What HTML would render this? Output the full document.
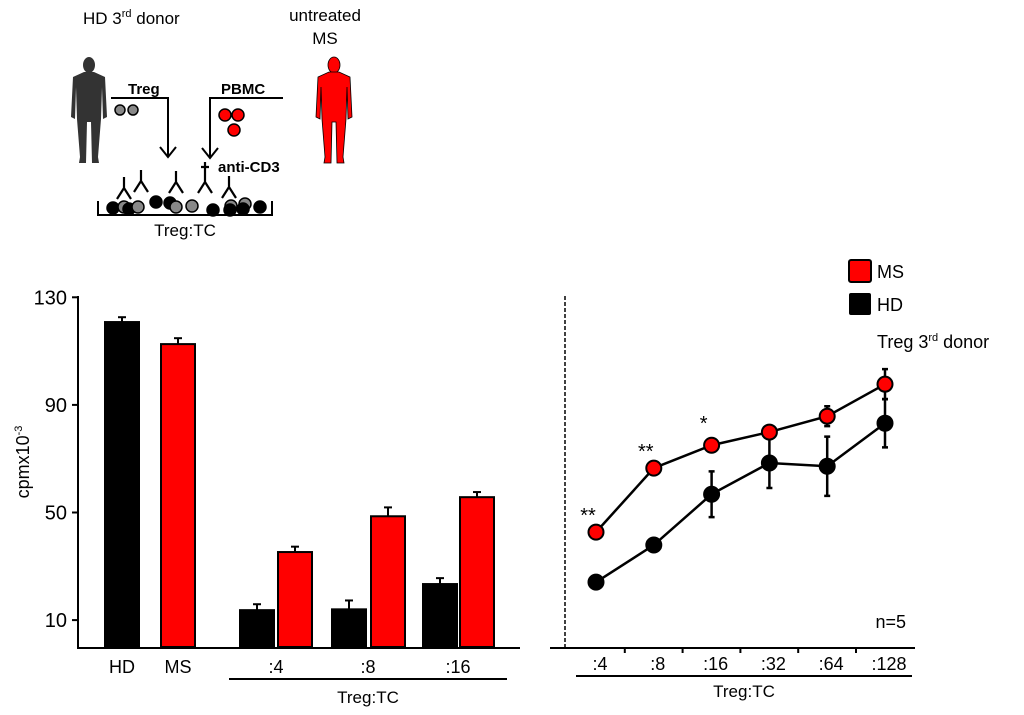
<!DOCTYPE html>
<html><head><meta charset="utf-8"><style>
html,body{margin:0;padding:0;background:#fff;}
svg{display:block;font-family:"Liberation Sans",Arial,sans-serif;}
</style></head><body>
<svg id="fig" width="1024" height="715" viewBox="0 0 1024 715" xmlns="http://www.w3.org/2000/svg">
  <g>
    <text x="83" y="24" font-size="17">HD 3<tspan font-size="11" dy="-7">rd</tspan><tspan dy="7"> donor</tspan></text>
    <text x="325" y="21" font-size="17" text-anchor="middle">untreated</text>
    <text x="325" y="44" font-size="17" text-anchor="middle">MS</text>
    <g transform="translate(89,57)" fill="#333">
      <ellipse cx="0" cy="8" rx="6" ry="8"/>
      <path d="M-5,15 L5,15 L16,20 L18,60 L14,62 L13,30 L12,62 L9,100 L10,106 L3,106 L2,65 L-2,65 L-3,106 L-10,106 L-9,100 L-12,62 L-13,30 L-14,62 L-18,60 L-16,20 Z"/>
    </g>
    <g transform="translate(334,57)" fill="#ff0000" stroke="#000" stroke-width="0.8">
      <ellipse cx="0" cy="8" rx="6" ry="8"/>
      <path d="M-5,15 L5,15 L16,20 L18,60 L14,62 L13,30 L12,62 L9,100 L10,106 L3,106 L2,65 L-2,65 L-3,106 L-10,106 L-9,100 L-12,62 L-13,30 L-14,62 L-18,60 L-16,20 Z"/>
    </g>
    <text x="128" y="94" font-size="15" font-weight="bold">Treg</text>
    <path d="M111,98 H168 V156 M160,147 L168,157 L176,147" fill="none" stroke="#000" stroke-width="2"/>
    <circle cx="120" cy="110" r="5" fill="#888" stroke="#000" stroke-width="1.5"/>
    <circle cx="133" cy="110" r="5" fill="#888" stroke="#000" stroke-width="1.5"/>
    <text x="221" y="94" font-size="15" font-weight="bold">PBMC</text>
    <path d="M283,98 H210 V157 M202,148 L210,158 L218,148" fill="none" stroke="#000" stroke-width="2"/>
    <circle cx="225" cy="115" r="6" fill="#ff0000" stroke="#000" stroke-width="1.5"/>
    <circle cx="238" cy="115" r="6" fill="#ff0000" stroke="#000" stroke-width="1.5"/>
    <circle cx="234" cy="130" r="6" fill="#ff0000" stroke="#000" stroke-width="1.5"/>
    <text x="218" y="172" font-size="15" font-weight="bold">anti-CD3</text>
    <g fill="none" stroke="#000" stroke-width="2.2">
      <path d="M117,199 L124,188 L124,177 M124,188 L131,199"/>
      <path d="M134,192 L141,181 L141,170 M141,181 L148,192"/>
      <path d="M169,193 L176,182 L176,171 M176,182 L183,193"/>
      <path d="M198,193 L205,182 L205,162 M201,167 H209 M205,182 L212,193"/>
      <path d="M222,198 L229,187 L229,176 M229,187 L236,198"/>
    </g>
    <g stroke="#000" stroke-width="1.5">
      <circle cx="113" cy="208" r="6" fill="#000"/><circle cx="124" cy="207" r="6" fill="#888"/><circle cx="129" cy="209" r="6" fill="#000"/><circle cx="138" cy="207" r="6" fill="#888"/>
      <circle cx="156" cy="202" r="6" fill="#000"/><circle cx="170" cy="203" r="6" fill="#000"/><circle cx="176" cy="207" r="6" fill="#888"/><circle cx="192" cy="206" r="6" fill="#888"/>
      <circle cx="213" cy="210" r="6" fill="#000"/><circle cx="231" cy="206" r="6" fill="#888"/><circle cx="230" cy="210" r="6" fill="#000"/><circle cx="245" cy="204" r="6" fill="#888"/><circle cx="243" cy="209" r="6" fill="#000"/><circle cx="260" cy="207" r="6" fill="#000"/>
    </g>
    <path d="M98,201 V215 H272 V201" fill="none" stroke="#000" stroke-width="2"/>
    <text x="185" y="236" font-size="17" text-anchor="middle">Treg:TC</text>
  </g>

  <g id="chart">
    <line x1="78" y1="296" x2="78" y2="649" stroke="#000" stroke-width="2"/>
    <line x1="77" y1="648" x2="520" y2="648" stroke="#000" stroke-width="2"/>
    <text transform="translate(29,462) rotate(-90)" font-size="18" text-anchor="middle">cpmx10<tspan font-size="11" dy="-7">-3</tspan></text>
    <line x1="229" y1="679" x2="507" y2="679" stroke="#000" stroke-width="2"/>
    <text x="368" y="703" font-size="17" text-anchor="middle">Treg:TC</text>
    <line x1="565" y1="296" x2="565" y2="648" stroke="#000" stroke-width="1.5" stroke-dasharray="4,2"/>
    <line x1="550" y1="648" x2="915" y2="648" stroke="#000" stroke-width="2"/>
    <line x1="576" y1="676" x2="912" y2="676" stroke="#000" stroke-width="2"/>
    <text x="744" y="697" font-size="17" text-anchor="middle">Treg:TC</text>
    <rect x="849" y="260" width="22" height="22" rx="2" fill="#ff0000" stroke="#000" stroke-width="2"/>
    <text x="877" y="278" font-size="18">MS</text>
    <rect x="849" y="293" width="22" height="22" rx="2" fill="#000"/>
    <text x="877" y="311" font-size="18">HD</text>
    <text x="877" y="348" font-size="18">Treg 3<tspan font-size="11" dy="-7">rd</tspan><tspan dy="7"> donor</tspan></text>
    <text x="906" y="628" font-size="18" text-anchor="end">n=5</text>
  </g>
</svg>
<script>
var yTicks = [10, 50, 90, 130];
var barCats = ["HD", "MS", ":4", ":4", ":8", ":8", ":16", ":16"];
var barValues = [120.8, 112.6, 13.7, 35.3, 14, 48.6, 23.4, 55.7];
var barErrors = [1.8, 2.2, 2.2, 2, 3.3, 3.3, 2.2, 1.9];
var barGroups = ["HD", "MS", "HD", "MS", "HD", "MS", "HD", "MS"];
var barLabels = ["HD", "MS", ":4", ":8", ":16"];
var lineCats = [":4", ":8", ":16", ":32", ":64", ":128"];
var msValues = [42.7, 66.5, 75, 79.9, 85.8, 97.7];
var msErrors = [0, 0, 2, 0, 3.7, 5.6];
var hdValues = [24.1, 37.9, 56.8, 68.4, 67.2, 83.2];
var hdErrors = [0, 0, 8.5, 9.3, 11, 9];
var sigMarks = ["**", "**", "*", "", "", ""];

var NS = "http://www.w3.org/2000/svg";
var chart = document.getElementById("chart");
function y(v){ return 647 - v * 2.69; }
var barX = [105, 161, 240, 278, 332, 371, 423, 460];
function bx(i){ return barX[i]; }
var barLabelX = [122, 178, 276, 368, 458];
function lx(i){ return 596 + i * 57.8; }
function mk(tag, attrs, parent){
  var el = document.createElementNS(NS, tag);
  for (var k in attrs) el.setAttribute(k, attrs[k]);
  (parent || chart).appendChild(el);
  return el;
}
yTicks.forEach(function(t){
  var tk = mk("line", {x1:72, x2:78, y1:y(t), y2:y(t), stroke:"#000", "stroke-width":2});
  
  
  var tl = mk("text", {x:67, y:y(t)+7, "font-size":20, "text-anchor":"end"});
  tl.textContent = t;
  
  
});
barValues.forEach(function(v, i){
  var x = bx(i), w = 34, col = barGroups[i] === "MS" ? "#ff0000" : "#000";
  var e = mk("line", {x1:x+w/2, x2:x+w/2, y1:y(v), y2:y(v+barErrors[i]), stroke:"#000", "stroke-width":2});
  
  
  var c = mk("line", {x1:x+w/2-4, x2:x+w/2+4, y1:y(v+barErrors[i]), y2:y(v+barErrors[i]), stroke:"#000", "stroke-width":2});
  
  
  var r = mk("rect", {x:x, y:y(v), width:w, height:647-y(v), fill:col, stroke:"#000", "stroke-width":2});
  
  
});
barLabels.forEach(function(l, i){
  var t = mk("text", {x:barLabelX[i], y:673, "font-size":18, "text-anchor":"middle"});
  t.textContent = l;
  
  
});
lineCats.forEach(function(l, i){
  var t = mk("text", {x:lx(i)+4, y:670, "font-size":18, "text-anchor":"middle"});
  t.textContent = l;
  
  
  if (i > 0) {
    var tk = mk("line", {x1:lx(i)-29, x2:lx(i)-29, y1:648, y2:653, stroke:"#000", "stroke-width":2});
    
    
  }
});
function series(vals, errs, col, name){
  var d = vals.map(function(v, i){ return (i ? "L" : "M") + lx(i) + "," + y(v); }).join(" ");
  var p = mk("path", {d:d, fill:"none", stroke:"#000", "stroke-width":2.5});
  
  
  vals.forEach(function(v, i){
    if (errs[i] > 0) {
      var e = mk("path", {d:"M"+lx(i)+","+y(v-errs[i])+" V"+y(v+errs[i])+" M"+(lx(i)-3)+","+y(v+errs[i])+" h6 M"+(lx(i)-3)+","+y(v-errs[i])+" h6", stroke:"#000", "stroke-width":2.5, fill:"none"});
      
      
    }
  });
  vals.forEach(function(v, i){
    var c = mk("circle", {cx:lx(i), cy:y(v), r:7.5, fill:col, stroke:"#000", "stroke-width":2});
    
    
  });
}
series(hdValues, hdErrors, "#000", "hd");
series(msValues, msErrors, "#ff0000", "ms");
sigMarks.forEach(function(s, i){
  if (!s) return;
  var t = mk("text", {x:lx(i)-8, y:y(msValues[i]+msErrors[i])-10, "font-size":20, "text-anchor":"middle"});
  t.textContent = s;
  
  
});
</script>
</body></html>
